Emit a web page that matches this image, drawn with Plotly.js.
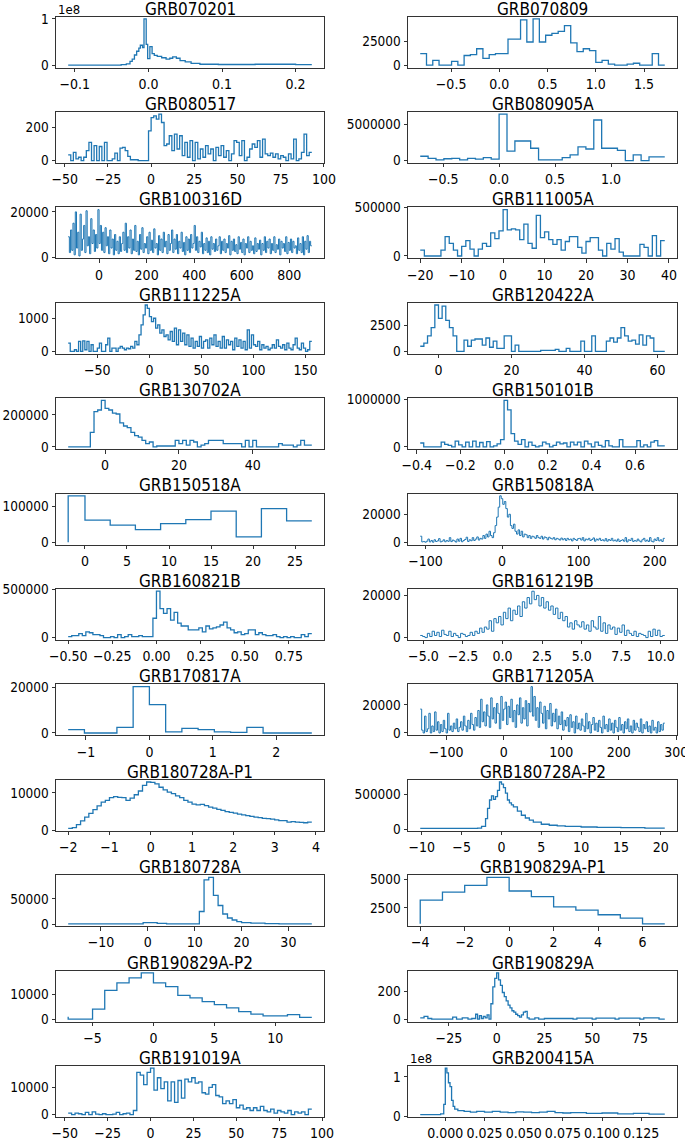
<!DOCTYPE html>
<html>
<head>
<meta charset="utf-8">
<script src="https://cdn.plot.ly/plotly-3.0.1.min.js"></script>
<style>
  html, body { margin: 0; padding: 0; background: #fff; }
  #chart { width: 685px; height: 1142px; }
</style>
</head>
<body>
<div id="chart"></div>
<script>
// ---- data ----
const grb070201_t = [-0.109, -0.037, -0.030, -0.025, -0.022, -0.019, -0.016, -0.013, -0.011, -0.008, -0.006, -0.003, -0.001, 0.002, 0.005, 0.008, 0.012, 0.018, 0.024, 0.029, 0.033, 0.038, 0.043, 0.050, 0.058, 0.070, 0.095, 0.145, 0.200, 0.222];
const grb070201_y = [0, 0.01, 0.03, 0.08, 0.13, 0.22, 0.3, 0.37, 0.43, 0.38, 1.0, 0.45, 0.14, 0.4, 0.25, 0.21, 0.19, 0.16, 0.13, 0.15, 0.18, 0.15, 0.1, 0.07, 0.04, 0.02, 0.015, 0.02, 0.01, 0.01];

const grb070809_t0 = -0.82, grb070809_dt = 0.065;
const grb070809_counts = [12000, 0, 5000, 0, 0, 4000, 0, 10000, 11000, 17000, 7000, 11000, 12000, 12000, 27000, 27000, 47000, 24000, 48000, 24000, 31000, 33000, 35000, 41000, 23000, 14000, 17000, 15000, 3000, 5000, 1000, 0, 0, 1000, 2000, 0, 0, 12000, 0];

const grb080517_t0 = -48, grb080517_dt = 1.5;
const grb080517_counts = [35, 0, 50, 10, 20, 0, 20, 60, 110, 0, 90, 0, 85, 0, 110, 0, 0, 10, 45, 0, 75, 80, 60, 25, 5, 5, 5, 0, 0, 0, 0, 180, 260, 270, 250, 280, 230, 90, 100, 150, 60, 160, 70, 150, 30, 110, 20, 120, 0, 110, 10, 70, 20, 90, 40, 70, 0, 80, 30, 90, 20, 60, 0, 40, 120, 110, 30, 120, 0, 20, 70, 100, 80, 120, 20, 130, 40, 30, 45, 20, 40, 10, 30, 20, 0, 40, 10, 130, 0, 10, 50, 160, 30, 50];

const grb080905a_t0 = -0.705, grb080905a_dt = 0.0705;
const grb080905a_counts = [600000, 300000, 100000, 250000, 300000, 100000, 300000, 200000, 400000, 200000, 6400000, 1300000, 2700000, 2700000, 1700000, 100000, 100000, 100000, 400000, 800000, 1900000, 1600000, 5600000, 1700000, 1700000, 1400000, 0, 800000, 0, 500000, 500000];

const grb100316d_t0 = -130, grb100316d_dt = 5;
const grb100316d_counts = [
  9000, 2000, 12000, 3000, 15000, 1000, 20000, 4000, 11000, 500, 19000, 3000, 8000, 14000, 2000, 20500, 5000, 9000, 1500, 17000, 6000, 12000, 2500, 10000, 4000, 21000,
  6000, 14000, 3000, 11000, 2000, 13000, 5000, 9000, 1500, 12000, 4000, 8000, 1000, 10000, 3000, 7000, 1500, 9000, 2500, 6000,
  11000, 3000, 15000, 2000, 9000, 4000, 12000, 1500, 8000, 3000, 14000, 2500, 7000, 1000, 10000, 3500, 13000, 2000, 6000, 4000, 9000, 1500, 11000, 3000, 7500, 2000, 12500, 4000, 6000, 1000, 9500, 3000, 8000, 2000, 11000, 4500, 7000, 1500, 10000, 3000,
  6000, 12000, 2000, 8000, 3500, 10000, 1500, 7000, 4000, 11000, 2500, 6500, 1000, 9000, 3000, 8000, 2000, 10000, 4000, 6000, 14000, 3000, 9000, 2000, 7000, 4500, 11000, 1500, 6000, 3000, 8500, 2000, 7000, 1000, 9000, 3500, 6000, 2500, 8000, 3000,
  5000, 9000, 1500, 7000, 3000, 8000, 2000, 6000, 4000, 9500, 1000, 7000, 3000, 8000, 2500, 5500, 1500, 9000, 3500, 6500, 2000, 8000, 1000, 6000, 4000, 9000, 2000, 7000, 3000, 5000, 1500, 8500, 2500, 6000, 3500, 7500, 1000, 6000, 3000, 9000,
  2000, 7000, 4000, 8000, 1500, 6000, 3000, 9000, 2000, 5500, 3500, 8000, 1000, 7000, 4000, 6000, 2500, 9000, 1500, 6500, 3000, 8000, 2000, 7000, 4000, 5000, 1500, 8500, 3000, 6000, 2000, 9000, 1000, 7000, 3500, 9500, 2000, 7000, 5000
];

const grb111005a_t0 = -20, grb111005a_dt = 1;
const grb111005a_counts = [60000, 0, 0, 0, 0, 60000, 200000, 130000, 60000, 0, 100000, 160000, 70000, 0, 70000, 130000, 100000, 240000, 180000, 260000, 480000, 270000, 280000, 270000, 170000, 330000, 130000, 80000, 420000, 190000, 250000, 170000, 120000, 170000, 60000, 150000, 200000, 200000, 90000, 30000, 150000, 190000, 190000, 60000, 0, 130000, 70000, 180000, 40000, 0, 0, 0, 0, 120000, 90000, 0, 210000, 0, 160000];

const grb111225a_t0 = -78, grb111225a_dt = 2;
const grb111225a_counts = [
  250, 0, 0, 50, 0, 300, 0, 320, 50, 300, 0, 200, 0, 0, 100, 250, 0, 0, 200, 400,
  0, 100, 100, 0, 100, 150, 100, 50, 100, 80, 150, 100, 300, 200, 500, 800, 1100, 1400, 1300, 1050,
  900, 1000, 700, 800, 550, 650, 450, 500, 350, 600, 300, 700, 200, 650, 300, 550, 200, 500, 150, 400,
  100, 300, 150, 450, 100, 300, 350, 100, 400, 200, 500, 150, 300, 100, 450, 100, 350, 200, 300, 50,
  400, 150, 350, 100, 300, 50, 650, 100, 500, 200, 150, 300, 50, 200, 100, 150, 50, 100, 200, 100,
  350, 150, 100, 200, 50, 250, 100, 50, 200, 400, 100, 50, 250, 100, 0, 50, 300
];

const grb120422a_t0 = -5, grb120422a_dt = 1;
const grb120422a_counts = [500, 800, 1500, 2300, 4500, 3200, 4400, 3000, 2300, 1500, 0, 0, 1100, 500, 1100, 1200, 1200, 600, 1300, 400, 1000, 300, 300, 1500, 1500, 0, 600, 0, 0, 0, 0, 0, 0, 100, 100, 100, 100, 200, 0, 0, 300, 0, 0, 0, 1000, 0, 0, 1500, 0, 0, 0, 1000, 1300, 900, 1300, 2300, 1500, 1000, 1100, 700, 1600, 600, 1500, 1300, 0, 0, 0];

const grb130702a_t0 = -10, grb130702a_dt = 1;
const grb130702a_counts = [0, 0, 0, 0, 0, 0, 90000, 220000, 230000, 290000, 240000, 230000, 210000, 205000, 150000, 130000, 120000, 90000, 70000, 60000, 40000, 20000, 30000, 0, 5000, 5000, 5000, 5000, 5000, 40000, 20000, 40000, 10000, 40000, 30000, 0, 10000, 20000, 40000, 40000, 40000, 40000, 20000, 20000, 20000, 20000, 20000, 0, 40000, 0, 40000, 0, 0, 0, 0, 0, 0, 20000, 10000, 10000, 10000, 0, 10000, 40000, 10000, 10000];

const grb150101b_t0 = -0.384, grb150101b_dt = 0.016;
const grb150101b_counts = [80000, 0, 0, 0, 0, 0, 100000, 50000, 30000, 0, 120000, 40000, 0, 100000, 0, 120000, 0, 90000, 0, 110000, 0, 20000, 60000, 150000,
  980000, 780000, 280000, 120000, 50000, 150000, 0, 100000, 30000, 0, 20000, 100000, 60000, 0, 30000, 100000, 60000, 80000, 0, 100000, 40000, 100000, 0, 120000, 60000, 0, 100000, 30000, 0, 130000, 20000, 0, 0, 150000, 0, 0, 0, 0, 130000, 0, 40000, 0, 100000, 130000, 20000, 20000];

const grb150518a_t = [-2, 0, 3, 6, 9, 12, 15, 18, 21, 24, 27];
const grb150518a_y = [0, 130000, 62000, 48000, 35000, 52000, 63000, 87000, 15000, 94000, 60000];

const grb150818a_t0 = -107, grb150818a_dt = 2;
const grb150818a_counts = [
  4500, 500, 800, 300, 1000, 2500, 500, 1500, 300, 2000, 800, 1200, 2800, 500, 1000, 2000, 600, 1500, 900, 3500,
  700, 1800, 1200, 400, 2500, 1000, 3000, 600, 1500, 2200, 3800, 800, 2000, 1300, 3500, 1500, 2500, 4000, 1800, 3000, 2500, 5000, 3000,
  6000, 4000, 8000, 5000, 3500, 7000, 12000, 18000, 25000, 33000,
  31000, 27000, 29000, 24000, 18000, 20000, 12000, 10000, 13000, 8000, 6000, 9000, 5000, 8000, 4000, 6000, 5500, 3500, 5000, 3000,
  4500, 4000, 3000, 5000, 3500, 3000, 4500, 2500, 4000, 3500, 2000, 3800, 3000, 2500, 3500, 2000, 3000, 2500, 1800, 3200,
  2000, 2800, 1500, 3000, 2000, 2500, 1200, 3000, 2200, 1500, 2800, 3000, 1800, 3500, 1200, 2500, 2000, 3000, 1500, 2200,
  3300, 1000, 2500, 1800, 3000, 1500, 2000, 1200, 2800, 1000, 2200, 1500, 3000, 1200, 1800, 1000, 2500, 800, 1500, 2000,
  1000, 3500, 500, 2000, 1500, 3000, 800, 1500, 1000, 2500, 1200, 500, 2000, 3000, 1000, 1800, 800, 3500, 1000, 500,
  2500, 1500, 3500, 1200, 2000, 800, 3000
];

const grb160821b_t0 = -0.5, grb160821b_dt = 0.02;
const grb160821b_counts = [10000, 20000, 20000, 40000, 20000, 60000, 50000, 30000, 30000, 20000, 0, 0, 10000, 0, 30000, 0, 10000, 30000, 10000, 10000, 20000, 10000, 10000, 10000, 200000, 480000, 300000, 250000, 300000, 180000, 260000, 150000, 120000, 120000, 80000, 80000, 80000, 100000, 60000, 120000, 90000, 100000, 110000, 130000, 160000, 100000, 80000, 50000, 60000, 30000, 40000, 80000, 80000, 30000, 50000, 30000, 20000, 20000, 30000, 10000, 0, 10000, 0, 10000, 0, 0, 30000, 10000, 40000];

const grb161219b_t0 = -5.2, grb161219b_dt = 0.15;
const grb161219b_counts = [
  1000, 500, 0, 2000, 500, 3000, 1000, 2500, 500, 3500, 1500, 1000, 3000, 500, 2000, 1000, 0, 2000, 1500, 500, 1000, 2500, 1000, 3000, 2000, 4500, 2500, 5000,
  4000, 8000, 3000, 9000, 7000, 10000, 6000, 12000, 9000, 14000, 8000, 13000, 11000, 15000, 10000, 17000,
  14000, 19000, 16000, 22000, 18000, 20000, 15000, 19000, 14000, 17000, 13000, 15000, 11000, 14000,
  9000, 12000, 8000, 10000, 5000, 7000, 4000, 8000, 6000, 5000, 7500, 4000, 6000, 3000, 8000, 5000, 4000,
  10000, 3000, 7000, 2000, 6000, 4000, 5000, 1500, 4500, 2500, 6000, 1000, 3500, 2000, 1000, 3000, 500, 2000, 1500, 1000, 0, 3000, 500, 4000, 1000, 3500, 500, 1000
];

const grb170817a_t0 = -1.28, grb170817a_dt = 0.256;
const grb170817a_counts = [1500, 0, 0, 2500, 20500, 12500, 500, 2000, 1500, 500, 300, 2500, 0, 0, 0];

const grb171205a_t0 = -145, grb171205a_dt = 2.5;
const grb171205a_counts = [
  17000, 2000, 0, 12000, 1000, 3000, 14000, 0, 5000, 1000, 15000, 2000, 8000, 0, 6000, 1000, 9000, 3000, 0, 14000, 2000, 5000, 1000, 7000, 3000, 10000, 1000, 4000, 8000, 2000, 12000, 5000, 1000, 9000, 3000, 14000, 6000, 2000, 11000, 5000, 16000, 4000,
  24000, 8000, 15000, 5000, 20000, 12000, 4000, 25000, 10000, 18000, 7000, 21000, 14000, 3000, 26000, 9000,
  17000, 22000, 6000, 19000, 11000, 24000, 8000, 16000, 4000, 20000, 13000, 25000, 7000, 18000, 10000, 23000, 5000, 21000, 15000, 33000,
  12000, 26000, 9000, 18000, 4000, 22000, 14000, 7000, 19000, 3000, 16000, 10000, 21000, 5000, 14000, 8000, 17000, 3000, 12000, 6000,
  15000, 2000, 9000, 5000, 11000, 1000, 13000, 4000, 8000, 0, 12000, 3000, 7000, 2000, 10000, 5000, 1000, 14000, 3000, 8000,
  0, 6000, 11000, 2000, 7000, 1000, 9000, 4000, 0, 12000, 3000, 6000, 1000, 10000, 2000, 7000, 0, 9000, 4000, 1000,
  11000, 2000, 6000, 0, 8000, 3000, 10000, 1000, 5000, 0, 9000, 2000, 7000, 4000, 1000, 10000, 0, 6000, 3000, 8000,
  1000, 5000, 0, 9000, 2000, 4000, 0, 8000, 1000, 6000, 2000, 7000
];

const grb180728a_p1_t0 = -2.0, grb180728a_p1_dt = 0.1;
const grb180728a_p1_counts = [500, 700, 1500, 2500, 3500, 4500, 5500, 6500, 7500, 8000, 8700, 9000, 8800, 8700, 8000, 8600, 9500, 10500, 12000, 12900, 12800, 12400, 11500, 10800, 10200, 9800, 9200, 8700, 8000, 7500, 7000, 6800, 6900, 6600, 6200, 5900, 5600, 5300, 5000, 4800, 4600, 4300, 4100, 3900, 3700, 3500, 3400, 3200, 3100, 3000, 2800, 2600, 2600, 2200, 2300, 2200, 2100, 2000, 2200];

const grb180728a_p2_t = [-10.2, -3, -2.5, -2, -1.75, -1.5, -1.25, -1, -0.75, -0.5, -0.25, 0, 0.25, 0.5, 0.75, 1, 1.25, 1.5, 2, 2.5, 3, 3.5, 4, 5, 6, 7, 8, 10, 12, 15, 18, 20.5];
const grb180728a_p2_y = [10000, 15000, 40000, 150000, 300000, 420000, 480000, 430000, 470000, 560000, 680000, 650000, 600000, 520000, 420000, 380000, 350000, 320000, 260000, 200000, 160000, 130000, 100000, 70000, 55000, 45000, 38000, 30000, 25000, 20000, 15000, 15000];

const grb180728a_t = [-17, -1, 2, 4, 11, 12, 13, 14, 15, 16, 17, 18, 19, 20, 22, 25, 28, 35];
const grb180728a_y = [500, 3000, 1500, 500, 25000, 88000, 93000, 57000, 37000, 20000, 12000, 8000, 5000, 3000, 2000, 1000, 500, 500];

const grb190829a_p1_t = [-4, -3, -2, -1, 0, 1, 2, 3, 4, 5, 6, 7];
const grb190829a_p1_y = [1100, 3200, 3900, 4500, 5200, 4000, 3500, 2600, 2300, 1900, 1600, 1100];

const grb190829a_p2_t = [-7, -6, -5, -4, -3, -2, -1, 0, 1, 2, 3, 4, 5, 6, 7, 8, 9, 10, 11, 12, 13];
const grb190829a_p2_y = [1000, 0, 0, 4000, 11500, 14500, 16500, 18500, 14500, 13000, 9500, 8500, 7000, 5800, 4500, 3000, 2000, 1300, 1300, 1800, 700];

const grb190829a_t = [-40, -38, -36, -34, -23, -21, -18, -15, -13, -11, -10, -9, -8, -7, -6, -5, -4, -3, -2, -1, 0, 1, 2, 3, 4, 5, 6, 7, 8, 9, 10, 11, 12, 13, 14, 15, 16, 17, 20, 22, 25, 40, 42, 50, 52, 62, 64, 75, 77, 85, 88];
const grb190829a_y = [10, 20, 5, 0, 15, 0, 10, 0, 5, 35, 0, 25, 5, 20, 10, 30, 0, 110, 230, 290, 330, 280, 240, 190, 160, 130, 100, 80, 60, 50, 35, 25, 15, 30, 50, 55, 10, 0, 10, 0, 5, 0, 8, 0, 8, 0, 8, 0, 10, 0, 0];

const grb191019a_t0 = -48, grb191019a_dt = 2;
const grb191019a_counts = [500, 0, 500, 300, 0, 800, 0, 1000, 200, 0, 300, 0, 0, 200, 800, 0, 300, 500, 0, 1500,
  15500, 14500, 11000, 15500, 17000, 9000, 13500, 9500, 12000, 5000, 12000, 4500, 12500, 6000, 13000, 12000, 13500, 11500, 12000, 8000, 7500, 10000, 11000, 7000, 6500, 4000, 5000, 4000, 5500, 2500, 3500, 2000, 2500, 1500, 2500, 1500, 3000, 1500, 1000, 2000, 500, 1500, 1000, 500, 1500, 0, 1000, 500, 1000, 0, 2000];

const grb200415a_t = [-0.016, -0.003, -0.001, 0.0, 0.001, 0.002, 0.003, 0.004, 0.005, 0.006, 0.008, 0.012, 0.016, 0.02, 0.025, 0.03, 0.035, 0.04, 0.045, 0.05, 0.055, 0.06, 0.065, 0.07, 0.075, 0.08, 0.09, 0.1, 0.11, 0.12, 0.13, 0.14];
const grb200415a_y = [0.04, 0.06, 0.3, 1.22, 1.1, 0.85, 0.75, 0.4, 0.25, 0.18, 0.14, 0.12, 0.1, 0.12, 0.1, 0.12, 0.1, 0.09, 0.11, 0.1, 0.09, 0.1, 0.12, 0.09, 0.08, 0.09, 0.07, 0.08, 0.06, 0.07, 0.05, 0.05];

// ---- helpers ----
function binned(t0, dt, counts) {
  const x = [], y = [];
  counts.forEach((c, i) => { x.push(t0 + i * dt); y.push(c); });
  x.push(t0 + counts.length * dt);
  y.push(counts[counts.length - 1]);
  return { x, y, shape: "hv" };
}
function pts(x, y, shape) { return { x, y, shape: shape || "hv" }; }
const num = (s) => parseFloat(s.replace("\u2212", "-"));

const panels = [
  { name: "GRB070201", ...pts(grb070201_t, grb070201_y), xt: ["\u22120.1", "0.0", "0.1", "0.2"], yt: ["0", "1"], exp: "1e8" },
  { name: "GRB070809", ...binned(grb070809_t0, grb070809_dt, grb070809_counts), xt: ["\u22120.5", "0.0", "0.5", "1.0", "1.5"], yt: ["0", "25000"] },
  { name: "GRB080517", ...binned(grb080517_t0, grb080517_dt, grb080517_counts), xt: ["\u221250", "\u221225", "0", "25", "50", "75", "100"], yt: ["0", "200"] },
  { name: "GRB080905A", ...binned(grb080905a_t0, grb080905a_dt, grb080905a_counts), xt: ["\u22120.5", "0.0", "0.5", "1.0"], yt: ["0", "5000000"] },
  { name: "GRB100316D", ...binned(grb100316d_t0, grb100316d_dt, grb100316d_counts), xt: ["0", "200", "400", "600", "800"], yt: ["0", "20000"], thin: true },
  { name: "GRB111005A", ...binned(grb111005a_t0, grb111005a_dt, grb111005a_counts), xt: ["\u221220", "\u221210", "0", "10", "20", "30", "40"], yt: ["0", "500000"] },
  { name: "GRB111225A", ...binned(grb111225a_t0, grb111225a_dt, grb111225a_counts), xt: ["\u221250", "0", "50", "100", "150"], yt: ["0", "1000"] },
  { name: "GRB120422A", ...binned(grb120422a_t0, grb120422a_dt, grb120422a_counts), xt: ["0", "20", "40", "60"], yt: ["0", "2500"] },
  { name: "GRB130702A", ...binned(grb130702a_t0, grb130702a_dt, grb130702a_counts), xt: ["0", "20", "40"], yt: ["0", "200000"] },
  { name: "GRB150101B", ...binned(grb150101b_t0, grb150101b_dt, grb150101b_counts), xt: ["\u22120.4", "\u22120.2", "0.0", "0.2", "0.4", "0.6"], yt: ["0", "1000000"] },
  { name: "GRB150518A", ...pts(grb150518a_t, grb150518a_y, "vh"), xt: ["0", "5", "10", "15", "20", "25"], yt: ["0", "100000"] },
  { name: "GRB150818A", ...binned(grb150818a_t0, grb150818a_dt, grb150818a_counts), xt: ["\u2212100", "0", "100", "200"], yt: ["0", "20000"], thin: true },
  { name: "GRB160821B", ...binned(grb160821b_t0, grb160821b_dt, grb160821b_counts), xt: ["\u22120.50", "\u22120.25", "0.00", "0.25", "0.50", "0.75"], yt: ["0", "500000"] },
  { name: "GRB161219B", ...binned(grb161219b_t0, grb161219b_dt, grb161219b_counts), xt: ["\u22125.0", "\u22122.5", "0.0", "2.5", "5.0", "7.5", "10.0"], yt: ["0", "20000"], thin: true },
  { name: "GRB170817A", ...binned(grb170817a_t0, grb170817a_dt, grb170817a_counts), xt: ["\u22121", "0", "1", "2"], yt: ["0", "20000"] },
  { name: "GRB171205A", ...binned(grb171205a_t0, grb171205a_dt, grb171205a_counts), xt: ["\u2212100", "0", "100", "200", "300"], yt: ["0", "20000"], thin: true },
  { name: "GRB180728A-P1", ...binned(grb180728a_p1_t0, grb180728a_p1_dt, grb180728a_p1_counts), xt: ["\u22122", "\u22121", "0", "1", "2", "3", "4"], yt: ["0", "10000"] },
  { name: "GRB180728A-P2", ...pts(grb180728a_p2_t, grb180728a_p2_y), xt: ["\u221210", "\u22125", "0", "5", "10", "15", "20"], yt: ["0", "500000"] },
  { name: "GRB180728A", ...pts(grb180728a_t, grb180728a_y), xt: ["\u221210", "0", "10", "20", "30"], yt: ["0", "50000"] },
  { name: "GRB190829A-P1", ...pts(grb190829a_p1_t, grb190829a_p1_y, "vh"), xt: ["\u22124", "\u22122", "0", "2", "4", "6"], yt: ["2500", "5000"] },
  { name: "GRB190829A-P2", ...pts(grb190829a_p2_t, grb190829a_p2_y, "vh"), xt: ["\u22125", "0", "5", "10"], yt: ["0", "10000"] },
  { name: "GRB190829A", ...pts(grb190829a_t, grb190829a_y), xt: ["\u221225", "0", "25", "50", "75"], yt: ["0", "200"] },
  { name: "GRB191019A", ...binned(grb191019a_t0, grb191019a_dt, grb191019a_counts), xt: ["\u221250", "\u221225", "0", "25", "50", "75", "100"], yt: ["0", "10000"] },
  { name: "GRB200415A", ...pts(grb200415a_t, grb200415a_y), xt: ["0.000", "0.025", "0.050", "0.075", "0.100", "0.125"], yt: ["0", "1"], exp: "1e8" }
];

// ---- layout (pixel geometry of the grid) ----
const W = 685, H = 1142;
const colX = [[56, 324], [408, 677]];
const rowTop = (r) => 16.5 + r * 95.4;
const PH = 51;
const FONT = "DejaVu Sans Condensed, Liberation Sans Narrow, DejaVu Sans, sans-serif";

const axisStyle = {
  showgrid: false,
  zeroline: false,
  showline: true,
  mirror: true,
  linecolor: "#333",
  linewidth: 1,
  ticks: "outside",
  ticklen: 3.5,
  tickwidth: 1,
  tickcolor: "#333",
  tickangle: 0,
  ticklabeloverflow: "allow",
  tickfont: { family: FONT, size: 14, color: "#000" },
  fixedrange: true
};

const traces = [];
const layout = {
  width: W,
  height: H,
  margin: { l: 0, r: 0, t: 0, b: 0 },
  paper_bgcolor: "#ffffff",
  plot_bgcolor: "#ffffff",
  showlegend: false,
  annotations: []
};

panels.forEach((p, i) => {
  const r = Math.floor(i / 2), c = i % 2;
  const ax = i === 0 ? "" : String(i + 1);
  const top = rowTop(r);

  traces.push({
    type: "scatter",
    mode: "lines",
    x: p.x,
    y: p.y,
    line: { shape: p.shape, color: "#1f77b4", width: p.thin ? 1 : 1.3 },
    xaxis: "x" + ax,
    yaxis: "y" + ax,
    hoverinfo: "skip"
  });

  const xmin = Math.min(...p.x), xmax = Math.max(...p.x);
  const ymin = Math.min(...p.y), ymax = Math.max(...p.y);
  const xpad = (xmax - xmin) * 0.05, ypad = (ymax - ymin) * 0.05;

  layout["xaxis" + ax] = {
    ...axisStyle,
    domain: [colX[c][0] / W, colX[c][1] / W],
    anchor: "y" + ax,
    range: [xmin - xpad, xmax + xpad],
    tickmode: "array",
    tickvals: p.xt.map(num),
    ticktext: p.xt
  };
  layout["yaxis" + ax] = {
    ...axisStyle,
    tickfont: { family: FONT, size: 13.5, color: "#000" },
    domain: [1 - (top + PH) / H, 1 - top / H],
    anchor: "x" + ax,
    range: [ymin - ypad, ymax + ypad],
    tickmode: "array",
    tickvals: p.yt.map(num),
    ticktext: p.yt
  };

  layout.annotations.push({
    text: p.name,
    xref: "paper", yref: "paper",
    x: (colX[c][0] + colX[c][1]) / 2 / W,
    y: 1 - (top - 8) / H,
    xanchor: "center", yanchor: "middle",
    showarrow: false,
    font: { family: FONT, size: 17, color: "#000" }
  });
  if (p.exp) {
    layout.annotations.push({
      text: p.exp,
      xref: "paper", yref: "paper",
      x: colX[c][0] / W,
      y: 1 - (top - 7) / H,
      xanchor: "left", yanchor: "middle",
      showarrow: false,
      font: { family: FONT, size: 13, color: "#000" }
    });
  }
});

Plotly.newPlot("chart", traces, layout, { staticPlot: true, displayModeBar: false });
</script>
</body>
</html>
